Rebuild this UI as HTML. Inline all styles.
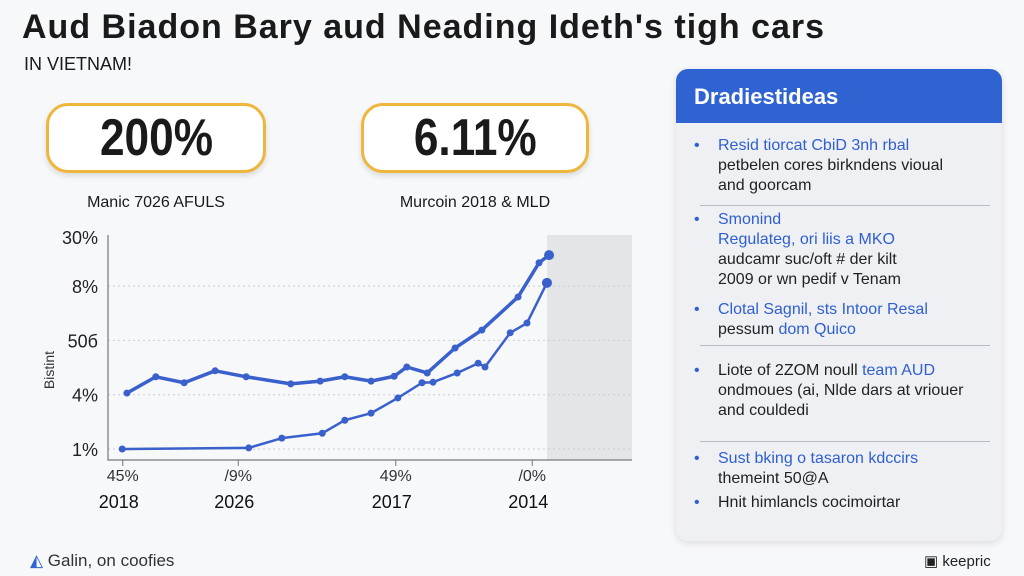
<!DOCTYPE html>
<html><head><meta charset="utf-8"><style>
body{margin:0;width:1024px;height:576px;background:#f7f8fa;font-family:"Liberation Sans",sans-serif;position:relative;overflow:hidden;color:#1a1a1a}
.abs{position:absolute}
.title{left:22px;top:8px;font-size:34px;font-weight:bold;letter-spacing:1px;white-space:nowrap}
.sub{left:24px;top:54px;font-size:18px}
.box{border:3px solid #efb63e;border-radius:22px;background:#fff;box-shadow:0 3px 6px rgba(0,0,0,.12);text-align:center;font-weight:bold;font-size:52px;line-height:64px}
.box span{display:inline-block;transform:scaleX(.85)}
.cap{font-size:16px;text-align:center;width:240px}
.panel{left:676px;top:69px;width:326px;height:472px;background:#eef0f4;border-radius:12px;box-shadow:0 2px 8px rgba(0,0,0,.12);overflow:hidden}
.ph{background:#2f63d2;color:#fff;font-weight:bold;font-size:22px;height:54px;line-height:56px;padding-left:18px}
.item{position:absolute;left:18px;font-size:16px;line-height:20px;color:#222}
.item .b{color:#2f5fd0}
.item:before{content:"•";position:absolute;left:0;color:#2f5fd0}
.item div{padding-left:24px}
.hr{position:absolute;left:24px;width:290px;height:1px;background:#b8bcc4}
</style></head><body>
<div class="abs title">Aud Biadon Bary aud Neading Ideth's tigh cars</div>
<div class="abs sub">IN VIETNAM!</div>
<div class="abs box" style="left:46px;top:103px;width:214px;height:64px"><span>200%</span></div>
<div class="abs box" style="left:361px;top:103px;width:222px;height:64px"><span>6.11%</span></div>
<div class="abs cap" style="left:36px;top:194px">Manic 7026 AFULS</div>
<div class="abs cap" style="left:355px;top:194px">Murcoin 2018 &amp; MLD</div>

<svg class="abs" style="left:0;top:0" width="660" height="530" id="chart"></svg>

<div class="abs panel">
<div class="ph">Dradiestideas</div>
<div class="item" style="top:67px"><div><span class="b">Resid tiorcat CbiD 3nh rbal</span><br>petbelen cores birkndens vioual<br>and goorcam</div></div>
<div class="hr" style="top:136px"></div>
<div class="item" style="top:141px"><div><span class="b">Smonind<br>Regulateg, ori liis a MKO</span><br>audcamr suc/oft # der kilt<br>2009 or wn pedif v Tenam</div></div>
<div class="item" style="top:231px"><div><span class="b">Clotal Sagnil, sts Intoor Resal</span><br>pessum <span class="b">dom Quico</span></div></div>
<div class="hr" style="top:276px"></div>
<div class="item" style="top:292px"><div>Liote of 2ZOM noull <span class="b">team AUD</span><br>ondmoues (ai, Nlde dars at vriouer<br>and couldedi</div></div>
<div class="hr" style="top:372px"></div>
<div class="item" style="top:380px"><div><span class="b">Sust bking o tasaron kdccirs</span><br>themeint 50@A</div></div>
<div class="item" style="top:424px"><div>Hnit himlancls cocimoirtar</div></div>
</div>

<div class="abs" style="left:30px;top:551px;font-size:17px;color:#333"><span style="color:#2f63d2">◭</span> Galin, on coofies</div>
<div class="abs" style="left:924px;top:552px;font-size:15px;color:#222">▣ keepric</div>

<script>
const xTickLabels=["45%","/9%","49%","/0%"];
const xYearLabels=["2018","2026","2017","2014"];
const xTickPos=[3,25,55,81];
const yTickLabels=["1%","4%","50б","8%","30%"];
const yTickVals=[0,1,2,3,3.9];
const s1x=[3.8,9.3,14.7,20.6,26.5,35,40.6,45.3,50.3,54.7,57.1,61,66.3,71.4,78.3,82.3,84.2];
const s1y=[1.03,1.33,1.22,1.44,1.33,1.2,1.25,1.33,1.25,1.34,1.51,1.4,1.86,2.19,2.8,3.43,3.57];
const s2x=[2.9,27,33.3,41,45.3,50.3,55.4,60,62.1,66.7,70.7,72,76.8,80,83.8];
const s2y=[0,0.02,0.2,0.29,0.53,0.66,0.94,1.22,1.23,1.4,1.58,1.51,2.14,2.32,3.06];

const NS="http://www.w3.org/2000/svg";
const svg=document.getElementById('chart');
const X=t=>107+t*5.25, Y=v=>449-v*54.3;
function mk(tag,attrs,parent){const e=document.createElementNS(NS,tag);for(const k in attrs)e.setAttribute(k,attrs[k]);(parent||svg).appendChild(e);return e;}
let r=mk('rect',{x:547,y:235,width:85,height:225,fill:'#e4e5e7'});


yTickVals.forEach((v,i)=>{
  if(i<4){let g=mk('line',{x1:108,x2:632,y1:Y(v),y2:Y(v),stroke:'#c8ccd2','stroke-dasharray':'2,3'});
  
  }
  let t=mk('text',{x:98,y:Y(v)+7,'text-anchor':'end','font-size':18,fill:'#222','font-family':'Liberation Sans'});
  t.textContent=yTickLabels[i];
  
  
});
let ax=mk('path',{d:'M108 235 V460 H632',fill:'none',stroke:'#777','stroke-width':1.2});


let yt=mk('text',{x:0,y:0,transform:'translate(54,370) rotate(-90)','font-size':14,fill:'#333','text-anchor':'middle'});
yt.textContent='Bistint';


xTickPos.forEach((p,i)=>{
  let tk=mk('line',{x1:X(p),x2:X(p),y1:460,y2:466,stroke:'#777'});
  
  
  let a=mk('text',{x:X(p),y:481,'text-anchor':'middle','font-size':16,fill:'#333'});a.textContent=xTickLabels[i];
  
  
  let b=mk('text',{x:X(p)-4,y:508,'text-anchor':'middle','font-size':18,fill:'#111'});b.textContent=xYearLabels[i];
  
  
});
function series(xs,ys,name,w){
  let d=xs.map((x,i)=>(i?'L':'M')+X(x)+' '+Y(ys[i])).join(' ');
  let p=mk('path',{d:d,fill:'none',stroke:'#3a60cc','stroke-width':w,'stroke-linejoin':'round'});
  
  
  xs.forEach((x,i)=>{let c=mk('circle',{cx:X(x),cy:Y(ys[i]),r:(i==xs.length-1?5:3.5),fill:'#3a60cc'});
  
  });
}
series(s1x,s1y,'series-1',3.5);
series(s2x,s2y,'series-2',2.5);
</script>
</body></html>
